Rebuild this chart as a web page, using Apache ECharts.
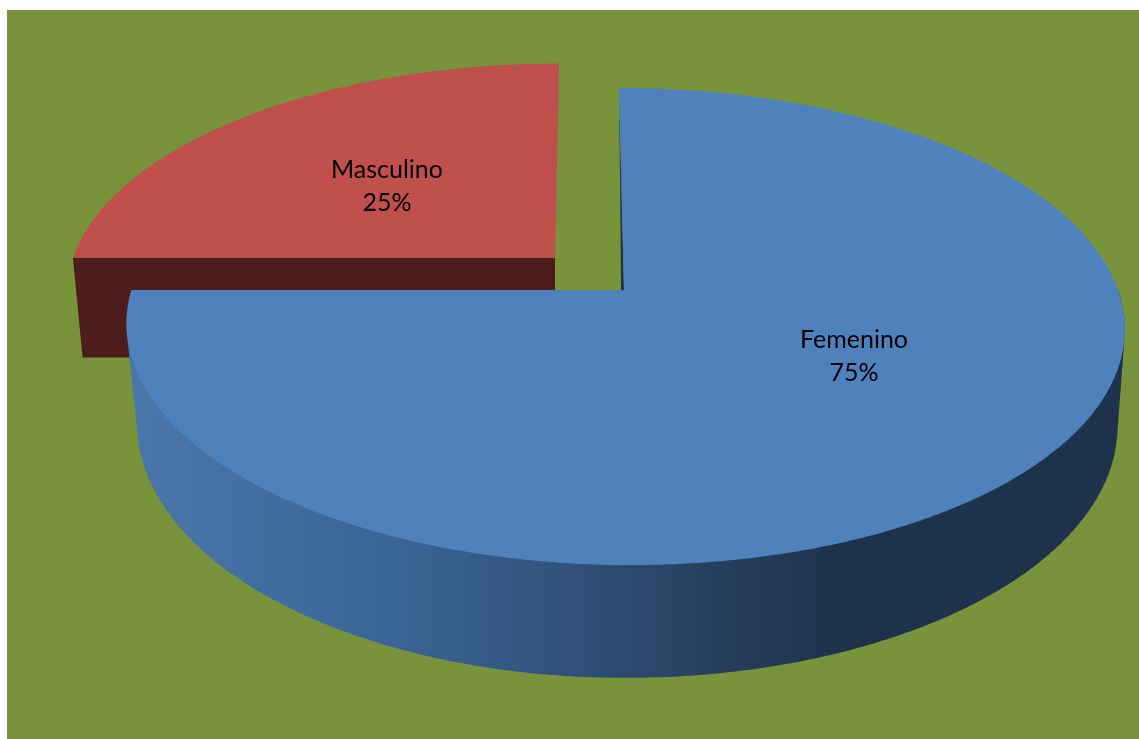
<!DOCTYPE html>
<html>
<head>
<meta charset="utf-8">
<style>
  html, body { margin: 0; padding: 0; background: #ffffff; }
  #chart { position: absolute; left: 0; top: 0; width: 1139px; height: 739px; }
</style>
<script src="https://cdn.jsdelivr.net/npm/echarts@6/dist/echarts.min.js"></script>
</head>
<body>
<div id="chart"></div>
<script>
// Share of respondents by sex
const categories = ['Femenino', 'Masculino'];
const shares = [75, 25];
const explode = [0, 0.2];
const topColors = ['#4F81BD', '#C0504D'];
const cutColors = ['#1E324C', '#4D1C1C'];
const labelAnchors = [[854, 356], [387, 186]];

// Projective mapping of the unit disc onto the page: one plane for the
// top of the pie and one for its base.
const topPlane = { aLeft: 492.5, aRight: 494, b: 89.7, c: 624, A: 233, y0: 290, p: 0.153 };
const basePlane = { aLeft: 481, aRight: 491, b: 78.6, c: 622, A: 248.7, y0: 392, p: 0.13 };

function project(plane, u, v) {
  const w = 1 + plane.p * v;
  const a = u < 0 ? plane.aLeft : plane.aRight;
  return [(a * u + plane.b * v + plane.c) / w, plane.y0 - plane.A * v / w];
}

// Points along the rim, angle measured clockwise from the back of the disc.
function rim(plane, from, to, ou, ov) {
  const pts = [];
  const n = Math.max(2, Math.ceil((to - from) / 0.01));
  for (let i = 0; i <= n; i++) {
    const t = from + (to - from) * i / n;
    pts.push(project(plane, ou + Math.sin(t), ov + Math.cos(t)));
  }
  return pts;
}

// Outline of the solid swept between the two rims.
function convexHull(points) {
  const pts = points.slice().sort((p, q) => p[0] - q[0] || p[1] - q[1]);
  const cross = (o, p, q) => (p[0] - o[0]) * (q[1] - o[1]) - (p[1] - o[1]) * (q[0] - o[0]);
  const half = (list) => {
    const out = [];
    list.forEach((p) => {
      while (out.length > 1 && cross(out[out.length - 2], out[out.length - 1], p) <= 0) out.pop();
      out.push(p);
    });
    out.pop();
    return out;
  };
  return half(pts).concat(half(pts.slice().reverse()));
}

const total = shares.reduce((s, x) => s + x, 0);
let running = 0;
const slices = shares.map((value, i) => {
  const from = running / total * Math.PI * 2;
  running += value;
  return { value, from, to: running / total * Math.PI * 2, explode: explode[i] };
});

const wallFill = new echarts.graphic.LinearGradient(130, 0, 835, 0, [
  { offset: 0, color: '#4A76AB' },
  { offset: 0.38, color: '#3A6494' },
  { offset: 0.6, color: '#32537D' },
  { offset: 0.82, color: '#27405F' },
  { offset: 1, color: '#1E324C' }
], true);

function renderSlice(params, api) {
  const i = params.dataIndex;
  const s = slices[i];
  const mid = (s.from + s.to) / 2;
  const ou = s.explode * Math.sin(mid);
  const ov = s.explode * Math.cos(mid);
  const layer = i === 0 ? 10 : 1;

  const topApex = project(topPlane, ou, ov);
  const baseApex = project(basePlane, ou, ov);
  const topArc = rim(topPlane, s.from, s.to, ou, ov);
  const baseArc = rim(basePlane, s.from, s.to, ou, ov);

  const poly = (points, fill, z2) => ({
    type: 'polygon', z2,
    shape: { points },
    style: { fill, stroke: null }
  });

  const children = [
    // Cut face along the slice's leading edge
    poly([topApex, topArc[0], baseArc[0], baseApex], cutColors[i], layer)
  ];

  // Only the front half of the rim shows an outer wall
  const wallFrom = Math.max(s.from, Math.PI / 2);
  const wallTo = Math.min(s.to, Math.PI * 3 / 2);
  if (wallTo > wallFrom) {
    const wall = rim(topPlane, wallFrom, wallTo, ou, ov)
      .concat(rim(basePlane, wallFrom, wallTo, ou, ov));
    children.push(poly(convexHull(wall), wallFill, layer + 1));
  }

  children.push(poly([topApex].concat(topArc), topColors[i], layer + 2));
  children.push({
    type: 'text', z2: layer + 3,
    style: {
      text: categories[i] + '\n' + api.value(0) + '%',
      x: labelAnchors[i][0], y: labelAnchors[i][1],
      align: 'center', verticalAlign: 'middle',
      font: '25px Lato', lineHeight: 33, fill: '#000000'
    }
  });
  return { type: 'group', children };
}

const chart = echarts.init(document.getElementById('chart'));
chart.setOption({
  animation: false,
  backgroundColor: '#ffffff',
  graphic: [{
    type: 'rect', z: -10, silent: true,
    shape: { x: 7, y: 10, width: 1132, height: 729 },
    style: { fill: '#78933B' }
  }],
  series: [{
    type: 'custom',
    coordinateSystem: 'none',
    silent: true,
    data: shares.map((value, i) => ({ name: categories[i], value: [value] })),
    renderItem: renderSlice
  }]
});
</script>
</body>
</html>
